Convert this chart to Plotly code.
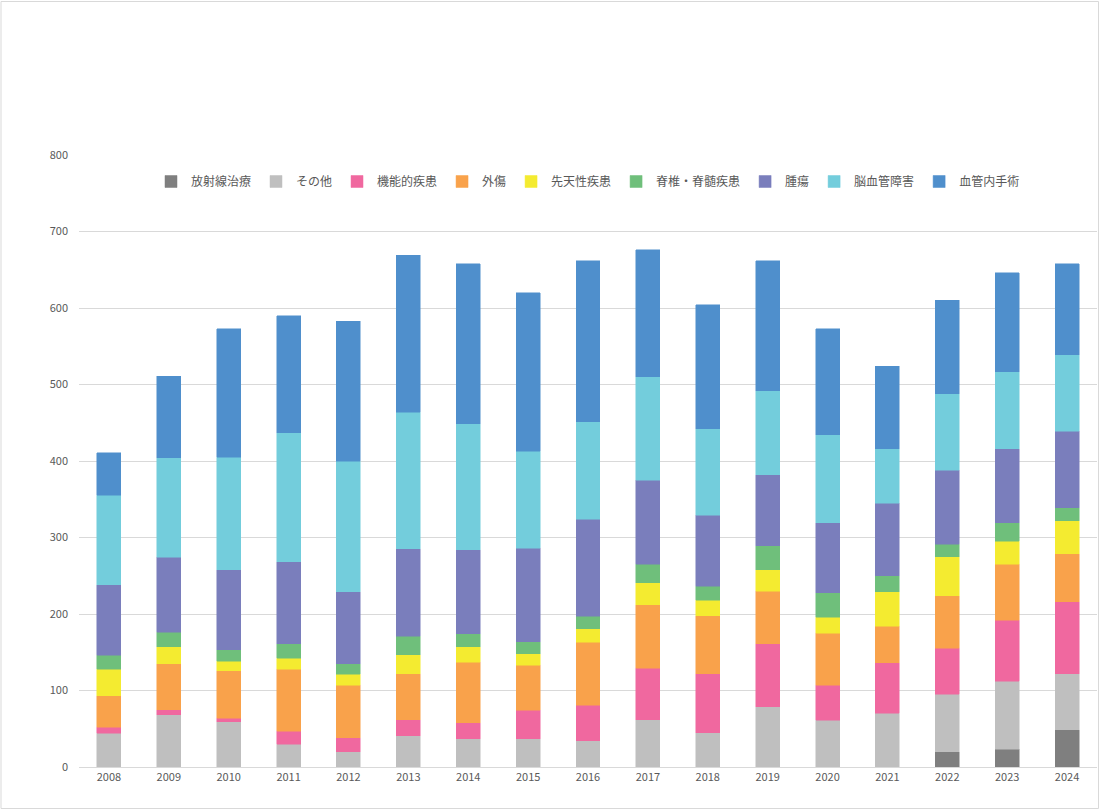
import plotly.graph_objects as go

years = ["2008", "2009", "2010", "2011", "2012", "2013", "2014", "2015", "2016",
         "2017", "2018", "2019", "2020", "2021", "2022", "2023", "2024"]

# series in stacking order (bottom -> top)
radiation   = [0, 0, 0, 0, 0, 0, 0, 0, 0, 0, 0, 0, 0, 0, 20, 23, 49]          # 放射線治療
other       = [44, 68, 59, 30, 20, 41, 37, 37, 34, 62, 45, 79, 61, 70, 75, 89, 73]  # その他
functional  = [8, 7, 5, 17, 18, 21, 21, 37, 47, 67, 77, 82, 46, 66, 60, 80, 94]     # 機能的疾患
trauma      = [41, 60, 62, 81, 69, 60, 79, 59, 82, 83, 76, 69, 68, 48, 69, 73, 63]  # 外傷
congenital  = [35, 22, 12, 14, 14, 25, 20, 15, 18, 29, 20, 28, 21, 45, 51, 30, 43]  # 先天性疾患
spine       = [18, 19, 15, 19, 14, 24, 17, 16, 16, 24, 18, 31, 32, 21, 16, 24, 17]  # 脊椎・脊髄疾患
tumor       = [92, 98, 105, 107, 94, 114, 110, 122, 127, 110, 93, 93, 91, 95, 97, 97, 100]  # 腫瘍
cerebrovasc = [117, 130, 147, 169, 171, 179, 165, 127, 127, 135, 113, 110, 115, 71, 100, 101, 100]  # 脳血管障害
endovasc    = [56, 107, 168, 153, 183, 205, 209, 207, 211, 166, 162, 170, 139, 108, 122, 129, 119]  # 血管内手術

series = [
    ("放射線治療", radiation, "#7f7f7f"),
    ("その他", other, "#bfbfbf"),
    ("機能的疾患", functional, "#f0689f"),
    ("外傷", trauma, "#f9a24b"),
    ("先天性疾患", congenital, "#f4eb30"),
    ("脊椎・脊髄疾患", spine, "#6fbf7b"),
    ("腫瘍", tumor, "#7a7ebc"),
    ("脳血管障害", cerebrovasc, "#73cddc"),
    ("血管内手術", endovasc, "#4f8fcc"),
]

FONT = "Noto Sans CJK JP"

fig = go.Figure()
for name, vals, col in series:
    fig.add_trace(go.Bar(
        x=years, y=vals, name=name,
        marker=dict(color=col, line=dict(color=col, width=0.5)),
    ))

fig.update_layout(
    barmode="stack",
    bargap=0.6,
    width=1100, height=811,
    margin=dict(l=79, r=3, t=155, b=44),
    paper_bgcolor="white",
    plot_bgcolor="white",
    font=dict(family=FONT, size=11, color="#595959"),
    legend=dict(
        orientation="h", x=0.5, xanchor="center", y=1 - 12 / 612, yanchor="top",
        yref="paper", traceorder="normal",
        font=dict(family=FONT, size=12, color="#595959"),
        itemwidth=30,
    ),
    xaxis=dict(
        type="category", showgrid=False, showline=True, linecolor="#d9d9d9",
        linewidth=1, ticks="", tickfont=dict(size=11, color="#595959"),
    ),
    yaxis=dict(
        range=[0, 800], dtick=100, showgrid=True, gridcolor="#d9d9d9",
        gridwidth=1, zeroline=False, showline=False, ticks="",
        tickfont=dict(size=11, color="#595959"), ticklabelstandoff=10,
    ),
    shapes=[dict(type="rect", xref="paper", yref="paper",
                 x0=-78/1018, x1=1 + 1.5/1018, y0=-41.5/612, y1=1 + 153.5/612,
                 line=dict(color="#d9d9d9", width=1), fillcolor="rgba(0,0,0,0)",
                 layer="below")],
)

fig.write_html(
    "out.html",
    config={"displayModeBar": False},
    post_script="document.body.style.margin='0';document.body.style.padding='0';",
)
